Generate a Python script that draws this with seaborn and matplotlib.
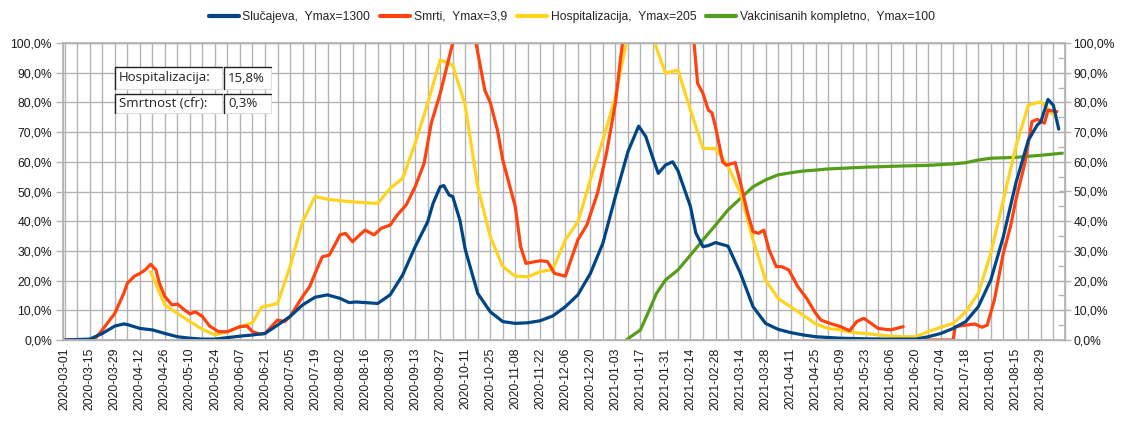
import matplotlib
matplotlib.use("Agg")
import matplotlib.pyplot as plt
import matplotlib.dates as mdates
import matplotlib.ticker as mticker
from matplotlib.patches import Rectangle
from matplotlib.lines import Line2D
import pandas as pd
import seaborn as sns

# days counted from 2020-03-01, values in % of Ymax
start = pd.Timestamp("2020-03-01")

cases_day = [0, 14, 21, 28, 33, 35, 42, 49, 56, 63, 70, 77, 84, 91, 98, 105, 112, 119, 126, 133,
             140, 147, 154, 159, 163, 168, 175, 182, 189, 196, 203, 206, 210, 212, 215, 217, 221,
             224, 231, 238, 245, 252, 259, 266, 273, 280, 287, 294, 301, 308, 315, 321, 325, 329,
             332, 336, 340, 343, 350, 353, 357, 360, 364, 371, 378, 385, 392, 399, 406, 413, 420,
             434, 448, 462, 476, 483, 490, 497, 504, 511, 518, 525, 532, 539, 544, 546, 550, 553, 556]
cases_pct = [0, 0.3, 2.2, 4.7, 5.4, 5.2, 3.9, 3.4, 2.2, 1.1, 0.6, 0.3, 0.3, 0.8, 1.3, 1.7, 2.2, 5.0,
             7.9, 11.8, 14.4, 15.2, 14.0, 12.6, 12.8, 12.6, 12.3, 15.2, 21.9, 31.4, 39.8, 46.0, 51.6,
             52.0, 48.8, 48.3, 40.4, 30.5, 15.7, 9.5, 6.2, 5.6, 5.8, 6.5, 8.1, 11.2, 15.2, 22.4, 32.6,
             48.3, 63.4, 72.0, 68.5, 61.2, 56.1, 58.9, 60.0, 57.0, 44.9, 36.0, 31.4, 31.8, 32.8, 31.6,
             22.4, 11.2, 5.6, 3.6, 2.5, 1.7, 1.1, 0.6, 0.4, 0.3, 0.3, 1.1, 2.2, 3.9, 6.2, 11.2, 20.2,
             34.8, 52.8, 67.3, 72.4, 73.5, 81.0, 79.0, 71.0]

deaths_day = [0, 14, 17, 21, 28, 33, 35, 39, 42, 45, 48, 51, 53, 56, 60, 63, 67, 70, 73, 77, 81, 86,
              91, 98, 102, 105, 109, 112, 119, 123, 126, 133, 137, 140, 144, 148, 154, 157, 161, 165,
              168, 173, 177, 182, 186, 191, 196, 201, 205, 210, 217, 224, 230, 235, 238, 242, 245,
              249, 252, 255, 258, 266, 270, 274, 280, 287, 292, 298, 303, 308, 311, 312, 330, 352,
              354, 357, 360, 362, 364, 368, 370, 375, 378, 382, 385, 388, 391, 394, 398, 401, 405,
              410, 415, 420, 423, 429, 434, 439, 443, 447, 455, 462, 469]
deaths_pct = [0, 0, 0.5, 3.4, 9.0, 15.7, 19.1, 21.5, 22.4, 23.6, 25.5, 23.6, 19.0, 14.6, 11.8, 12.1,
              10.1, 8.8, 9.5, 7.9, 4.7, 2.8, 2.8, 4.5, 4.7, 2.8, 2.0, 2.2, 6.7, 6.2, 7.9, 14.6, 18.0,
              22.4, 28.0, 28.6, 35.4, 35.9, 33.1, 35.4, 37.0, 35.4, 37.6, 38.7, 42.1, 45.5, 51.6, 59.5,
              73.0, 83.0, 100.0, 115.0, 100.0, 84.0, 80.0, 70.7, 60.6, 51.6, 44.9, 31.4, 25.8, 26.7,
              26.4, 22.4, 21.5, 33.7, 38.7, 49.4, 62.9, 79.7, 95.4, 100.0, 135.0, 100.0, 86.4, 83.0,
              77.4, 76.5, 71.8, 60.0, 58.9, 59.7, 52.8, 42.6, 36.5, 35.9, 37.0, 30.3, 24.7, 24.7, 23.6,
              18.0, 14.0, 9.0, 6.7, 5.4, 4.5, 3.1, 6.2, 7.3, 3.9, 3.4, 4.5]
deaths2_day = [482, 497, 498, 504, 509, 513, 516, 520, 525, 529, 532, 537, 541, 544, 548, 550, 555]
deaths2_pct = [0, 0, 4.5, 5.0, 5.4, 4.3, 5.0, 13.5, 29.2, 38.2, 47.1, 59.5, 73.5, 74.3, 73.0, 77.4, 76.9]

hosp_day = [48, 56, 63, 70, 77, 84, 91, 98, 105, 110, 119, 126, 133, 140, 147, 154, 161, 168, 175,
            182, 189, 196, 203, 210, 217, 224, 231, 238, 245, 252, 259, 266, 273, 280, 287, 294, 301,
            308, 314, 322, 330, 336, 343, 350, 357, 364, 371, 378, 385, 392, 399, 406, 413, 420, 427,
            434, 441, 448, 455, 462, 469, 476, 483, 490, 497, 504, 511, 518, 525, 532, 539, 546, 553]
hosp_pct = [23.0, 11.8, 9.0, 6.2, 3.6, 1.7, 2.8, 4.5, 5.8, 11.0, 12.3, 24.7, 39.8, 48.3, 47.4, 46.9,
            46.5, 46.2, 46.0, 51.1, 54.4, 66.2, 79.7, 94.3, 92.6, 79.0, 51.6, 34.8, 24.7, 21.5, 21.3,
            23.0, 23.8, 33.7, 39.8, 53.9, 67.3, 81.9, 100.0, 120.0, 100.0, 89.8, 90.9, 77.4, 64.5,
            64.5, 58.4, 49.4, 33.7, 20.2, 14.0, 11.2, 8.4, 5.4, 3.9, 3.4, 2.5, 2.2, 1.7, 1.3, 1.1, 1.1,
            2.8, 4.3, 5.6, 9.5, 15.7, 29.2, 47.1, 65.1, 79.1, 80.2, 75.8]

vacc_day = [314, 322, 327, 331, 336, 343, 350, 357, 364, 371, 378, 385, 392, 399, 406, 413, 420, 427,
            434, 441, 448, 469, 483, 497, 504, 511, 518, 532, 546, 558]
vacc_pct = [0, 3.4, 10.1, 15.7, 20.2, 23.6, 28.6, 33.7, 38.7, 43.8, 47.7, 51.6, 53.9, 55.6, 56.3,
            56.9, 57.2, 57.6, 57.8, 58.0, 58.2, 58.6, 58.8, 59.3, 59.7, 60.6, 61.2, 61.5, 62.2, 62.9]

labels = ["Slučajeva,  Ymax=1300", "Smrti,  Ymax=3,9", "Hospitalizacija,  Ymax=205",
          "Vakcinisanih kompletno,  Ymax=100"]
colors = ["#004586", "#ff420e", "#ffd320", "#579d1c"]

table_rows = [("Hospitalizacija:", "15,8%"), ("Smrtnost (cfr):", "0,3%")]


def frame(days, vals, seg=0):
    return pd.DataFrame({"date": start + pd.to_timedelta(days, unit="D"), "pct": vals, "seg": seg})


sns.set_theme(style="white")
plt.rcParams["font.family"] = ["Liberation Sans", "DejaVu Sans"]

W, H = 1123, 422
fig = plt.figure(figsize=(W / 100, H / 100), dpi=100)
ax = fig.add_axes([63 / W, 1 - 340 / H, (1065 - 63) / W, (340 - 43) / H])

series = [
    frame(cases_day, cases_pct),
    pd.concat([frame(deaths_day, deaths_pct, 0), frame(deaths2_day, deaths2_pct, 1)]),
    frame(hosp_day, hosp_pct),
    frame(vacc_day, vacc_pct),
]
for i in [3, 2, 1, 0]:
    sns.lineplot(data=series[i], x="date", y="pct", units="seg", estimator=None, sort=False,
                 color=colors[i], lw=2.3, ax=ax, legend=False)

grid_c = "#b3b3b3"
ax.set_ylim(0, 100)
ax.set_xlim(start - pd.Timedelta(days=1), start + pd.Timedelta(days=559.5))

major = pd.date_range(start, periods=41, freq="14D")
minor = pd.date_range(start, periods=81, freq="7D")
ax.xaxis.set_major_locator(mticker.FixedLocator(mdates.date2num(major)))
ax.xaxis.set_minor_locator(mticker.FixedLocator(mdates.date2num(minor)))
ax.xaxis.set_major_formatter(mdates.DateFormatter("%Y-%m-%d"))
ax.yaxis.set_major_locator(mticker.MultipleLocator(10))
pct_fmt = mticker.FuncFormatter(lambda v, p: f"{v:.1f}%".replace(".", ","))
ax.yaxis.set_major_formatter(pct_fmt)

ax.grid(True, which="both", axis="x", color=grid_c, lw=1)
ax.grid(True, which="major", axis="y", color=grid_c, lw=1)
ax.set_axisbelow(True)
ax.set_xlabel("")
ax.set_ylabel("")
for s in ax.spines.values():
    s.set_color(grid_c)
    s.set_linewidth(1)

ax.tick_params(axis="x", which="both", direction="inout", length=7, color=grid_c, width=1,
               labelsize=8.7, labelcolor="#1a1a1a", labelrotation=90, pad=2)
ax.tick_params(axis="y", which="major", direction="out", length=5, color=grid_c, width=1,
               labelsize=8.7, labelcolor="#1a1a1a", left=True, pad=3)

ax2 = ax.twinx()
ax2.set_ylim(0, 100)
ax2.yaxis.set_major_locator(mticker.MultipleLocator(10))
ax2.yaxis.set_minor_locator(mticker.MultipleLocator(5))
ax2.yaxis.set_major_formatter(pct_fmt)
ax2.tick_params(axis="y", which="major", direction="inout", length=8, color=grid_c, width=1,
                labelsize=8.7, labelcolor="#1a1a1a", pad=2)
ax2.tick_params(axis="y", which="minor", direction="in", length=5, color=grid_c, width=1)
for s in ax2.spines.values():
    s.set_color(grid_c)
ax2.grid(False)

handles = [Line2D([], [], color=c, lw=3) for c in colors]
fig.legend(handles, labels, loc="upper center", bbox_to_anchor=(0.509, 1.0), ncol=4,
           frameon=False, fontsize=8.7, handlelength=2.5, handletextpad=0.3, columnspacing=0.8)

# small value table in the top-left corner
cells = [(115, 222), (224, 271)]
row_y = [(67, 89), (94, 113)]
for r, (name, val) in enumerate(table_rows):
    y0, y1 = row_y[r]
    for c, txt in enumerate([name, val]):
        x0, x1 = cells[c]
        fig.add_artist(Rectangle((x0 / W, 1 - y1 / H), (x1 - x0) / W, (y1 - y0) / H,
                                 transform=fig.transFigure, facecolor="white",
                                 edgecolor="#dddddd", lw=0.8))
        fig.add_artist(Line2D([x0 / W, x0 / W, x1 / W], [1 - y1 / H, 1 - y0 / H, 1 - y0 / H],
                              transform=fig.transFigure, color="#222222", lw=1))
        fig.text((x0 + 4) / W, 1 - (y0 + y1) / 2 / H, txt, family="Open Sans", fontsize=9.5,
                 va="center", ha="left", color="#222222")

fig.savefig("out.png", dpi=100)
